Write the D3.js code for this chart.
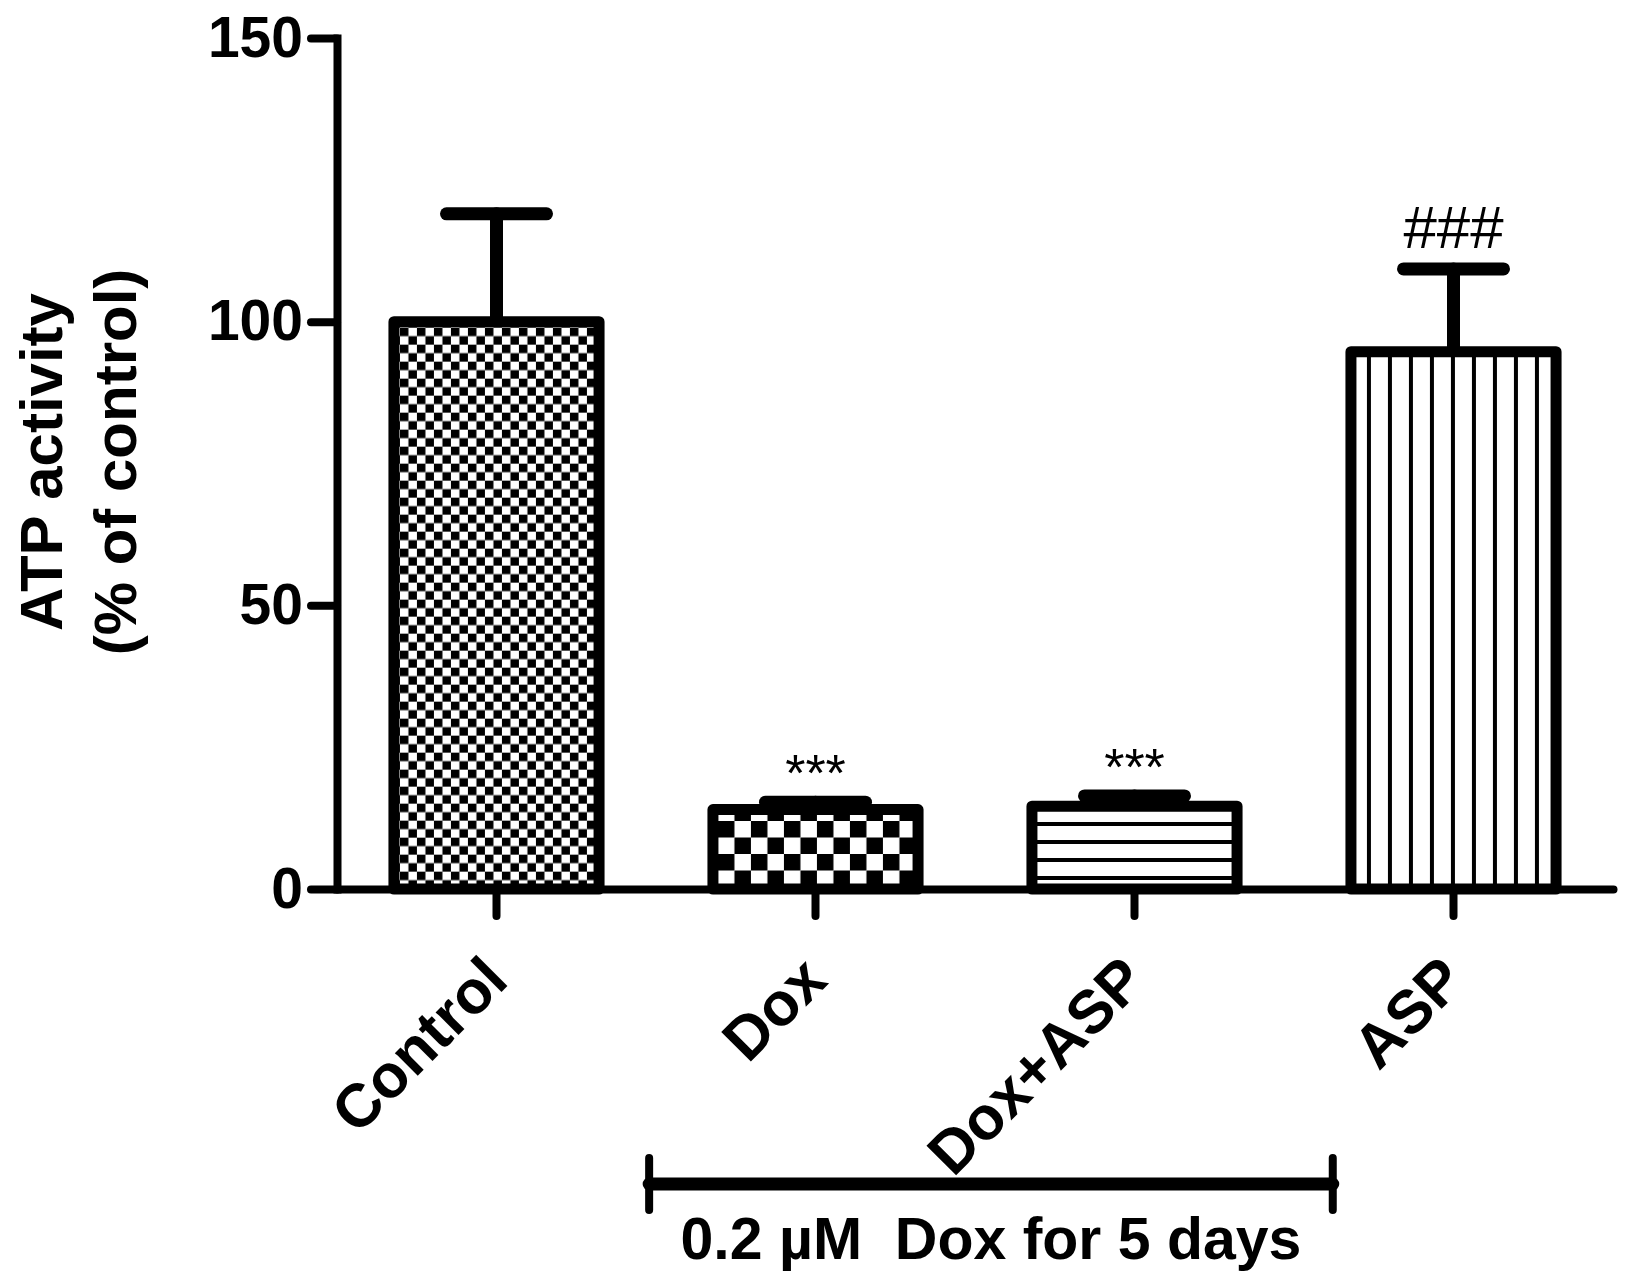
<!DOCTYPE html>
<html>
<head>
<meta charset="utf-8">
<script src="https://cdn.jsdelivr.net/npm/d3@7"></script>
<style>
    html, body { margin: 0; padding: 0; background: #fff; }
    svg { display: block; }
    text { font-family: 'Liberation Sans', Arial, sans-serif; fill: #000; }
</style>
</head>
<body>
<bar-chart></bar-chart>
<script>
const groups = ['Control', 'Dox', 'Dox+ASP', 'ASP'];
const means = [100, 14.0, 14.6, 94.7];
const errors = [19, 1.3, 1.8, 14.6];
const marks = ['', '***', '***', '###'];
const yTicks = [0, 50, 100, 150];
const yTitle = ['ATP activity', '(% of control)'];
const bracketGroups = ['Dox', 'Dox+ASP'];
const bracketLabel = '0.2 µM  Dox for 5 days';

class BarChart extends HTMLElement {
    constructor() {
        super();

        this.width = 1633;
        this.height = 1288;
        this.margin = { top: 38, right: 20, bottom: 399, left: 337 };

        this.svg = d3.select(this).append('svg')
            .attr('width', this.width)
            .attr('height', this.height);
    }
    //_________________________________________________________________________________________
    //
    connectedCallback() {
        this.data = groups.map((g, i) => ({ group: g, mean: means[i], err: errors[i], mark: marks[i] }));

        this.#createScales();
        this.#definePatterns();
        this.#drawAxes();
        this.#drawBars();
        this.#drawBracket();
    }
    //____________________________________________________________
    //
    #createScales() {
        this.x = d3.scaleBand()
            .domain(groups)
            .range([this.margin.left, this.width - this.margin.right])
            .paddingInner(0.357)
            .paddingOuter(0.1785);

        this.y = d3.scaleLinear()
            .domain([0, 150])
            .range([this.height - this.margin.bottom, this.margin.top]);
    }
    //____________________________________________________________
    //
    #definePatterns() {
        const defs = this.svg.append('defs');
        const x = this.x, y0 = this.y(0);

        // fine checkerboard
        let p = defs.append('pattern').attr('id', 'pat-0')
            .attr('patternUnits', 'userSpaceOnUse')
            .attr('x', x('Control') + 6).attr('y', this.y(100) + 6)
            .attr('width', 17).attr('height', 17);
        p.append('rect').attr('width', 17).attr('height', 17).attr('fill', '#fff');
        p.append('rect').attr('width', 8.5).attr('height', 8.5).attr('fill', '#000');
        p.append('rect').attr('x', 8.5).attr('y', 8.5).attr('width', 8.5).attr('height', 8.5).attr('fill', '#000');

        // coarse checkerboard
        p = defs.append('pattern').attr('id', 'pat-1')
            .attr('patternUnits', 'userSpaceOnUse')
            .attr('x', x('Dox') + 5).attr('y', y0 - 2)
            .attr('width', 33).attr('height', 33);
        p.append('rect').attr('width', 33).attr('height', 33).attr('fill', '#fff');
        p.append('rect').attr('width', 16.5).attr('height', 16.5).attr('fill', '#000');
        p.append('rect').attr('x', 16.5).attr('y', 16.5).attr('width', 16.5).attr('height', 16.5).attr('fill', '#000');

        // horizontal lines
        p = defs.append('pattern').attr('id', 'pat-2')
            .attr('patternUnits', 'userSpaceOnUse')
            .attr('x', 0).attr('y', y0 - 13)
            .attr('width', 10).attr('height', 18);
        p.append('rect').attr('width', 10).attr('height', 18).attr('fill', '#fff');
        p.append('rect').attr('width', 10).attr('height', 4).attr('fill', '#000');

        // vertical lines
        p = defs.append('pattern').attr('id', 'pat-3')
            .attr('patternUnits', 'userSpaceOnUse')
            .attr('x', x('ASP') + 16).attr('y', 0)
            .attr('width', 21).attr('height', 10);
        p.append('rect').attr('width', 21).attr('height', 10).attr('fill', '#fff');
        p.append('rect').attr('width', 4).attr('height', 10).attr('fill', '#000');
    }
    //_______________________________________________________________________________________
    //
    #drawAxes() {
        const yAxis = this.svg.append('g')
            .attr('transform', `translate(${this.margin.left},0)`)
            .call(d3.axisLeft(this.y).tickValues(yTicks).tickSize(26).tickSizeOuter(0).tickPadding(8));

        yAxis.select('.domain').attr('stroke-width', 8).attr('stroke-linecap', 'square');
        yAxis.selectAll('.tick line').attr('stroke-width', 8).attr('stroke-linecap', 'round');
        yAxis.selectAll('.tick text')
            .attr('font-size', 57).attr('font-weight', 'bold')
            .attr('font-family', "'Liberation Sans', Arial, sans-serif");

        const xAxis = this.svg.append('g')
            .attr('transform', `translate(0,${this.y(0)})`)
            .call(d3.axisBottom(this.x).tickSize(27).tickSizeOuter(0));

        xAxis.select('.domain').attr('stroke-width', 8).attr('stroke-linecap', 'round');
        xAxis.selectAll('.tick line').attr('stroke-width', 8).attr('stroke-linecap', 'round');
        xAxis.selectAll('.tick text')
            .attr('x', 0).attr('y', 0).attr('dy', 0)
            .attr('transform', 'translate(14,94) rotate(-45)')
            .attr('font-size', 61).attr('font-weight', 'bold')
            .attr('font-family', "'Liberation Sans', Arial, sans-serif")
            .style('text-anchor', 'end');

        this.svg.append('text')
            .attr('transform', `translate(0,462) rotate(-90)`)
            .attr('text-anchor', 'middle')
            .attr('font-size', 60).attr('font-weight', 'bold')
            .selectAll('tspan')
            .data(yTitle)
            .join('tspan')
            .attr('x', 0)
            .attr('y', (d, i) => i === 0 ? 62 : 136)
            .text(d => d);
    }
    //_______________________________________________________________________________________
    //
    #drawBars() {
        const g = this.svg.append('g');
        const cx = d => this.x(d.group) + this.x.bandwidth() / 2;

        g.selectAll('.err')
            .data(this.data)
            .join('g')
            .attr('class', 'err')
            .call(s => s.append('line')
                .attr('x1', cx).attr('x2', cx)
                .attr('y1', d => this.y(d.mean)).attr('y2', d => this.y(d.mean + d.err)))
            .call(s => s.append('line')
                .attr('x1', d => cx(d) - 50).attr('x2', d => cx(d) + 50)
                .attr('y1', d => this.y(d.mean + d.err)).attr('y2', d => this.y(d.mean + d.err)))
            .selectAll('line')
            .attr('stroke', '#000').attr('stroke-width', 13).attr('stroke-linecap', 'round');

        g.selectAll('rect')
            .data(this.data)
            .join('rect')
            .attr('x', d => this.x(d.group))
            .attr('width', this.x.bandwidth())
            .attr('y', d => this.y(d.mean))
            .attr('height', d => this.y(0) - this.y(d.mean))
            .attr('fill', (d, i) => `url(#pat-${i})`)
            .attr('stroke', '#000')
            .attr('stroke-width', 11)
            .attr('stroke-linejoin', 'round');

        g.selectAll('.mark')
            .data(this.data.filter(d => d.mark))
            .join('text')
            .attr('class', 'mark')
            .attr('x', cx)
            .attr('y', d => this.y(d.mean + d.err) - (d.mark === '###' ? 21 : 11))
            .attr('text-anchor', 'middle')
            .attr('font-size', d => d.mark === '###' ? 60 : 52)
            .text(d => d.mark);
    }
    //_______________________________________________________________________________________
    //
    #drawBracket() {
        const step = this.x.step();
        const x1 = this.x(bracketGroups[0]) - step * 0.2;
        const x2 = this.x(bracketGroups[1]) + this.x.bandwidth() + step * 0.3;
        const yb = 1184;

        const g = this.svg.append('g').attr('stroke', '#000').attr('stroke-linecap', 'round');
        g.append('line').attr('x1', x1).attr('x2', x2).attr('y1', yb).attr('y2', yb).attr('stroke-width', 13);
        [x1, x2].forEach(xe => g.append('line')
            .attr('x1', xe).attr('x2', xe).attr('y1', yb - 26).attr('y2', yb + 26).attr('stroke-width', 8));

        this.svg.append('text')
            .attr('x', (x1 + x2) / 2)
            .attr('y', 1259)
            .attr('text-anchor', 'middle')
            .attr('font-size', 59).attr('font-weight', 'bold')
            .style('white-space', 'pre')
            .text(bracketLabel);
    }
    //_______________________________________________________________________________________
    //
    static define(tag = 'bar-chart') {
        customElements.define(tag, this);
    }
}

BarChart.define();
</script>
</body>
</html>
